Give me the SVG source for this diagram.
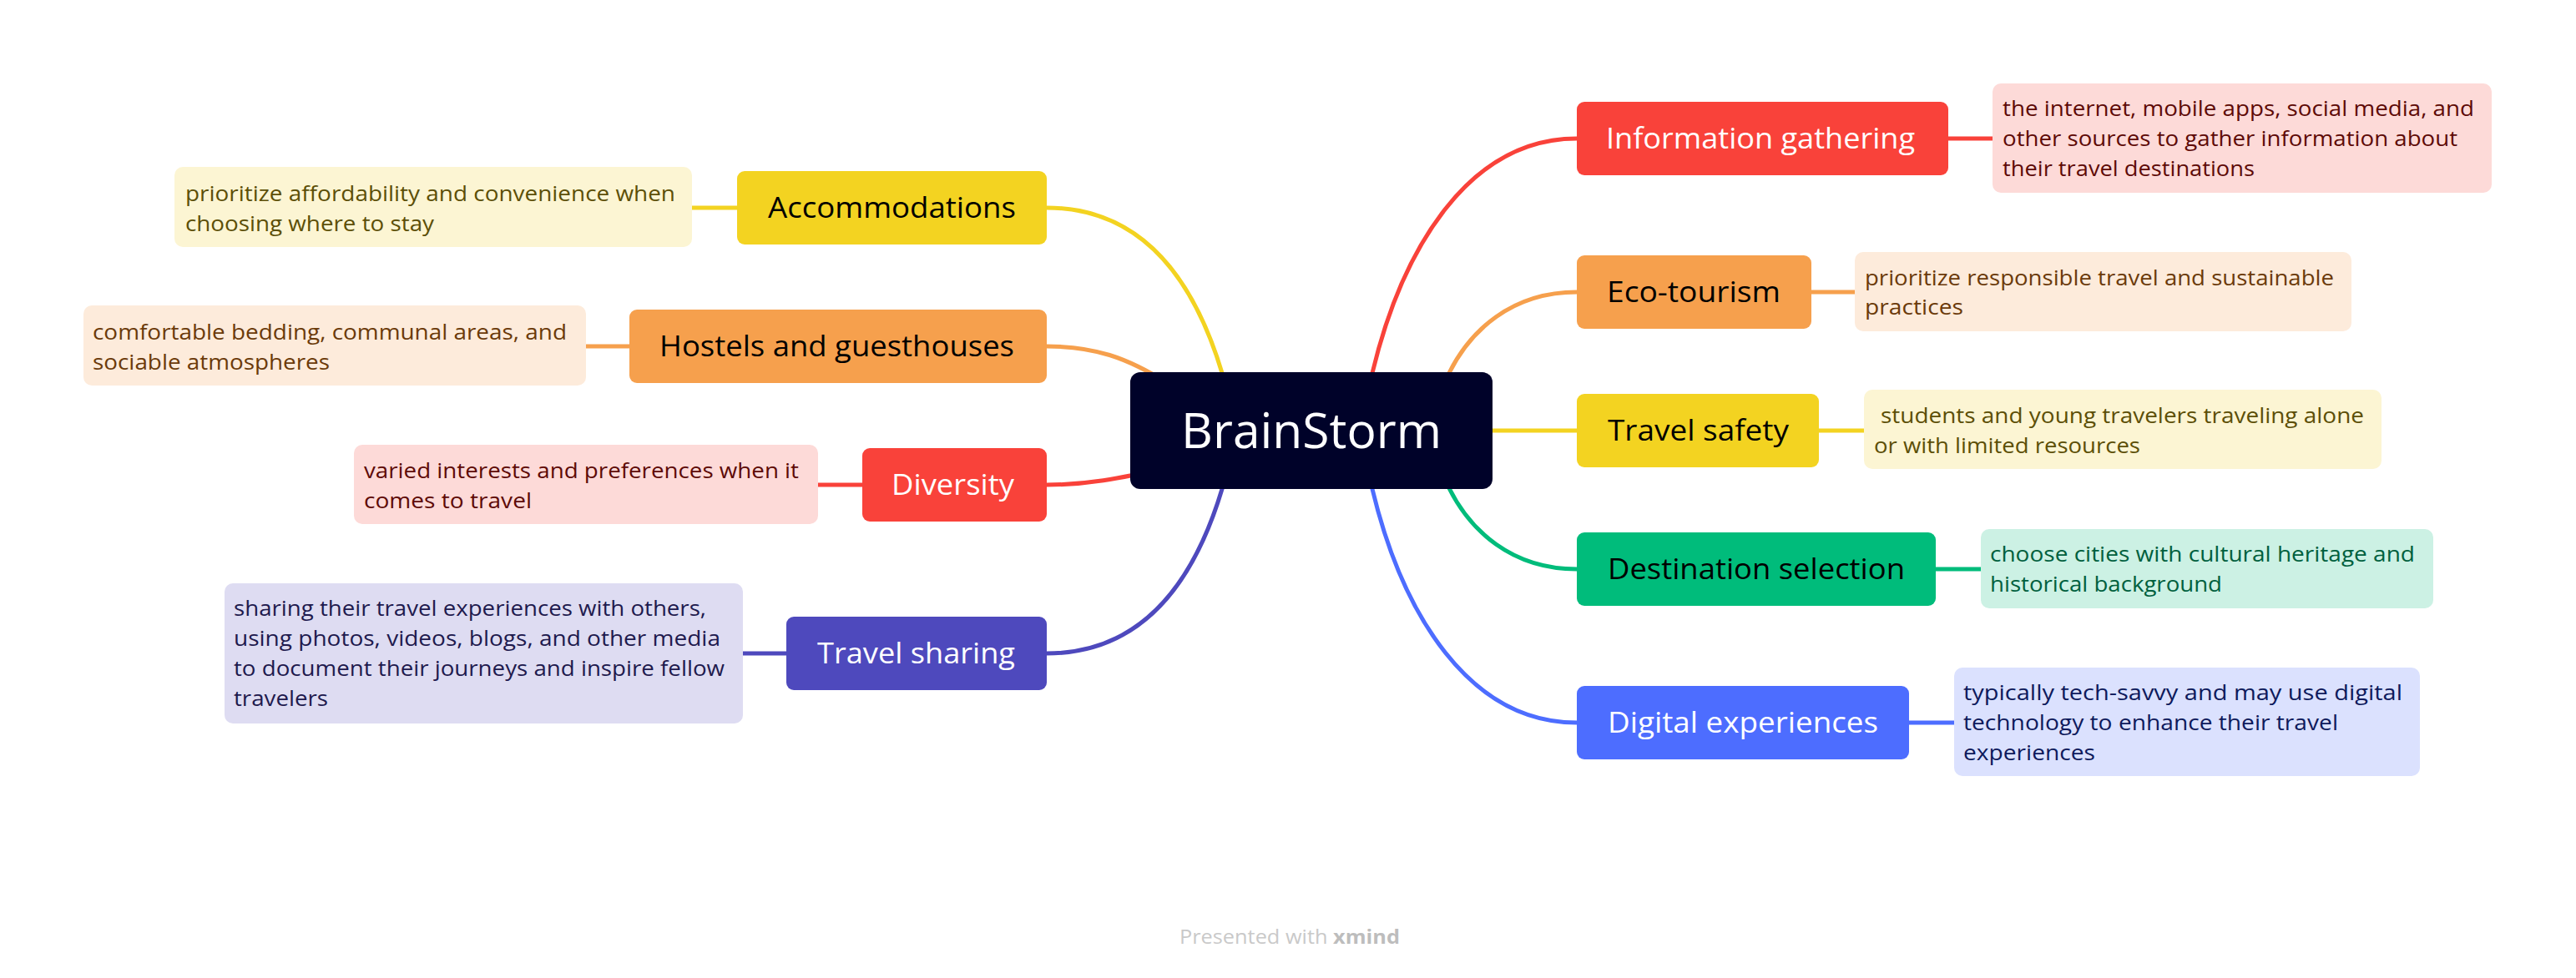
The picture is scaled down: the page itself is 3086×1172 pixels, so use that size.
<svg xmlns="http://www.w3.org/2000/svg" width="3086" height="1172" viewBox="0 0 3086 1172">
<style>
text{font-family:"Open Sans","Noto Sans","Liberation Sans",sans-serif}
.conn{fill:none;stroke-width:5;stroke-linecap:round}
.br{font-size:34px;font-weight:500}
.nt{font-size:25px}
.w{fill:#ffffff}
.k{fill:#000000}
</style>
<rect width="3086" height="1172" fill="#ffffff"/>
<g id="connectors">
<path class="conn" stroke="#F9423A" d="M1634,487 L1644,447 C1680,297 1760,166 1889,166"/>
<path class="conn" stroke="#F6A04D" d="M1726,467 L1736,447 C1761,397 1810,350 1889,350"/>
<path class="conn" stroke="#F3D321" d="M1700,516 L1889,516"/>
<path class="conn" stroke="#00BC7B" d="M1726,565 L1736,585 C1761,635 1810,682 1889,682"/>
<path class="conn" stroke="#4D6DFF" d="M1634,546 L1644,586 C1680,736 1760,866 1889,866"/>
<path class="conn" stroke="#F3D321" d="M1476,487 L1464,447 C1416,287 1330,249 1254,249"/>
<path class="conn" stroke="#F6A04D" d="M1254,415 C1310,415 1350,428 1400,460"/>
<path class="conn" stroke="#F9423A" d="M1254,581 C1300,581 1340,574 1400,560"/>
<path class="conn" stroke="#4E49BD" d="M1476,546 L1464,586 C1416,746 1330,783 1254,783"/>
<path class="conn" stroke="#F9423A" d="M2334,166 L2387,166"/>
<path class="conn" stroke="#F6A04D" d="M2170,350 L2222,350"/>
<path class="conn" stroke="#F3D321" d="M2179,516 L2233,516"/>
<path class="conn" stroke="#00BC7B" d="M2319,682 L2373,682"/>
<path class="conn" stroke="#4D6DFF" d="M2287,866 L2341,866"/>
<path class="conn" stroke="#F3D321" d="M829,249 L883,249"/>
<path class="conn" stroke="#F6A04D" d="M702,415 L754,415"/>
<path class="conn" stroke="#F9423A" d="M980,581 L1033,581"/>
<path class="conn" stroke="#4E49BD" d="M890,783 L942,783"/>
</g>
<g id="root">
<rect x="1354" y="446" width="434" height="140" rx="12" fill="#000229"/>
<text x="1571" y="537" font-size="59" font-weight="500" text-anchor="middle" class="w" textLength="312" lengthAdjust="spacingAndGlyphs">BrainStorm</text>
</g>
<g id="information-gathering">
<rect x="1889" y="122" width="445" height="88" rx="9" fill="#F9423A"/>
<text x="1924" y="178" class="br w" textLength="370" lengthAdjust="spacingAndGlyphs">Information gathering</text>
</g>
<g id="information-gathering-note">
<rect x="2387" y="100" width="598" height="131" rx="10" fill="#FDDAD8"/>
<text x="2399" y="139" class="nt" fill="#5E0A07" textLength="565" lengthAdjust="spacingAndGlyphs">the internet, mobile apps, social media, and</text>
<text x="2399" y="175" class="nt" fill="#5E0A07" textLength="545" lengthAdjust="spacingAndGlyphs">other sources to gather information about</text>
<text x="2399" y="211" class="nt" fill="#5E0A07" textLength="302" lengthAdjust="spacingAndGlyphs">their travel destinations</text>
</g>
<g id="eco-tourism">
<rect x="1889" y="306" width="281" height="88" rx="9" fill="#F6A04D"/>
<text x="1925" y="362" class="br k" textLength="208" lengthAdjust="spacingAndGlyphs">Eco-tourism</text>
</g>
<g id="eco-tourism-note">
<rect x="2222" y="302" width="595" height="95" rx="10" fill="#FDEBDB"/>
<text x="2234" y="342" class="nt" fill="#6B3A0A" textLength="562" lengthAdjust="spacingAndGlyphs">prioritize responsible travel and sustainable</text>
<text x="2234" y="377" class="nt" fill="#6B3A0A" textLength="118" lengthAdjust="spacingAndGlyphs">practices</text>
</g>
<g id="travel-safety">
<rect x="1889" y="472" width="290" height="88" rx="9" fill="#F3D321"/>
<text x="1926" y="528" class="br k" textLength="217" lengthAdjust="spacingAndGlyphs">Travel safety</text>
</g>
<g id="travel-safety-note">
<rect x="2233" y="467" width="620" height="95" rx="10" fill="#FCF5D3"/>
<text x="2253" y="507" class="nt" fill="#5C4F07" textLength="579" lengthAdjust="spacingAndGlyphs">students and young travelers traveling alone</text>
<text x="2245" y="543" class="nt" fill="#5C4F07" textLength="319" lengthAdjust="spacingAndGlyphs">or with limited resources</text>
</g>
<g id="destination-selection">
<rect x="1889" y="638" width="430" height="88" rx="9" fill="#00BC7B"/>
<text x="1926" y="694" class="br k" textLength="356" lengthAdjust="spacingAndGlyphs">Destination selection</text>
</g>
<g id="destination-selection-note">
<rect x="2373" y="634" width="542" height="95" rx="10" fill="#CCF1E4"/>
<text x="2384" y="673" class="nt" fill="#00603E" textLength="509" lengthAdjust="spacingAndGlyphs">choose cities with cultural heritage and</text>
<text x="2384" y="709" class="nt" fill="#00603E" textLength="278" lengthAdjust="spacingAndGlyphs">historical background</text>
</g>
<g id="digital-experiences">
<rect x="1889" y="822" width="398" height="88" rx="9" fill="#4D6DFF"/>
<text x="1926" y="878" class="br w" textLength="324" lengthAdjust="spacingAndGlyphs">Digital experiences</text>
</g>
<g id="digital-experiences-note">
<rect x="2341" y="800" width="558" height="130" rx="10" fill="#DBE1FE"/>
<text x="2352" y="839" class="nt" fill="#0E1A5C" textLength="526" lengthAdjust="spacingAndGlyphs">typically tech-savvy and may use digital</text>
<text x="2352" y="875" class="nt" fill="#0E1A5C" textLength="449" lengthAdjust="spacingAndGlyphs">technology to enhance their travel</text>
<text x="2352" y="911" class="nt" fill="#0E1A5C" textLength="158" lengthAdjust="spacingAndGlyphs">experiences</text>
</g>
<g id="accommodations">
<rect x="883" y="205" width="371" height="88" rx="9" fill="#F3D321"/>
<text x="920" y="261" class="br k" textLength="297" lengthAdjust="spacingAndGlyphs">Accommodations</text>
</g>
<g id="accommodations-note">
<rect x="209" y="200" width="620" height="96" rx="10" fill="#FCF5D3"/>
<text x="222" y="241" class="nt" fill="#5C4F07" textLength="587" lengthAdjust="spacingAndGlyphs">prioritize affordability and convenience when</text>
<text x="222" y="277" class="nt" fill="#5C4F07" textLength="298" lengthAdjust="spacingAndGlyphs">choosing where to stay</text>
</g>
<g id="hostels-and-guesthouses">
<rect x="754" y="371" width="500" height="88" rx="9" fill="#F6A04D"/>
<text x="790" y="427" class="br k" textLength="425" lengthAdjust="spacingAndGlyphs">Hostels and guesthouses</text>
</g>
<g id="hostels-and-guesthouses-note">
<rect x="100" y="366" width="602" height="96" rx="10" fill="#FDEBDB"/>
<text x="111" y="407" class="nt" fill="#6B3A0A" textLength="568" lengthAdjust="spacingAndGlyphs">comfortable bedding, communal areas, and</text>
<text x="111" y="443" class="nt" fill="#6B3A0A" textLength="284" lengthAdjust="spacingAndGlyphs">sociable atmospheres</text>
</g>
<g id="diversity">
<rect x="1033" y="537" width="221" height="88" rx="9" fill="#F9423A"/>
<text x="1068" y="593" class="br w" textLength="147" lengthAdjust="spacingAndGlyphs">Diversity</text>
</g>
<g id="diversity-note">
<rect x="424" y="533" width="556" height="95" rx="10" fill="#FDDAD8"/>
<text x="436" y="573" class="nt" fill="#5E0A07" textLength="521" lengthAdjust="spacingAndGlyphs">varied interests and preferences when it</text>
<text x="436" y="609" class="nt" fill="#5E0A07" textLength="201" lengthAdjust="spacingAndGlyphs">comes to travel</text>
</g>
<g id="travel-sharing">
<rect x="942" y="739" width="312" height="88" rx="9" fill="#4E49BD"/>
<text x="979" y="795" class="br w" textLength="237" lengthAdjust="spacingAndGlyphs">Travel sharing</text>
</g>
<g id="travel-sharing-note">
<rect x="269" y="699" width="621" height="168" rx="10" fill="#DEDCF2"/>
<text x="280" y="738" class="nt" fill="#1E1A4E" textLength="566" lengthAdjust="spacingAndGlyphs">sharing their travel experiences with others,</text>
<text x="280" y="774" class="nt" fill="#1E1A4E" textLength="583" lengthAdjust="spacingAndGlyphs">using photos, videos, blogs, and other media</text>
<text x="280" y="810" class="nt" fill="#1E1A4E" textLength="588" lengthAdjust="spacingAndGlyphs">to document their journeys and inspire fellow</text>
<text x="280" y="846" class="nt" fill="#1E1A4E" textLength="113" lengthAdjust="spacingAndGlyphs">travelers</text>
</g>
<g id="footer">
<text x="1413" y="1131" font-size="24" fill="#C9C9C9" textLength="264" lengthAdjust="spacingAndGlyphs">Presented with <tspan font-weight="bold" fill="#BDBDBD">xmind</tspan></text>
</g>
</svg>
